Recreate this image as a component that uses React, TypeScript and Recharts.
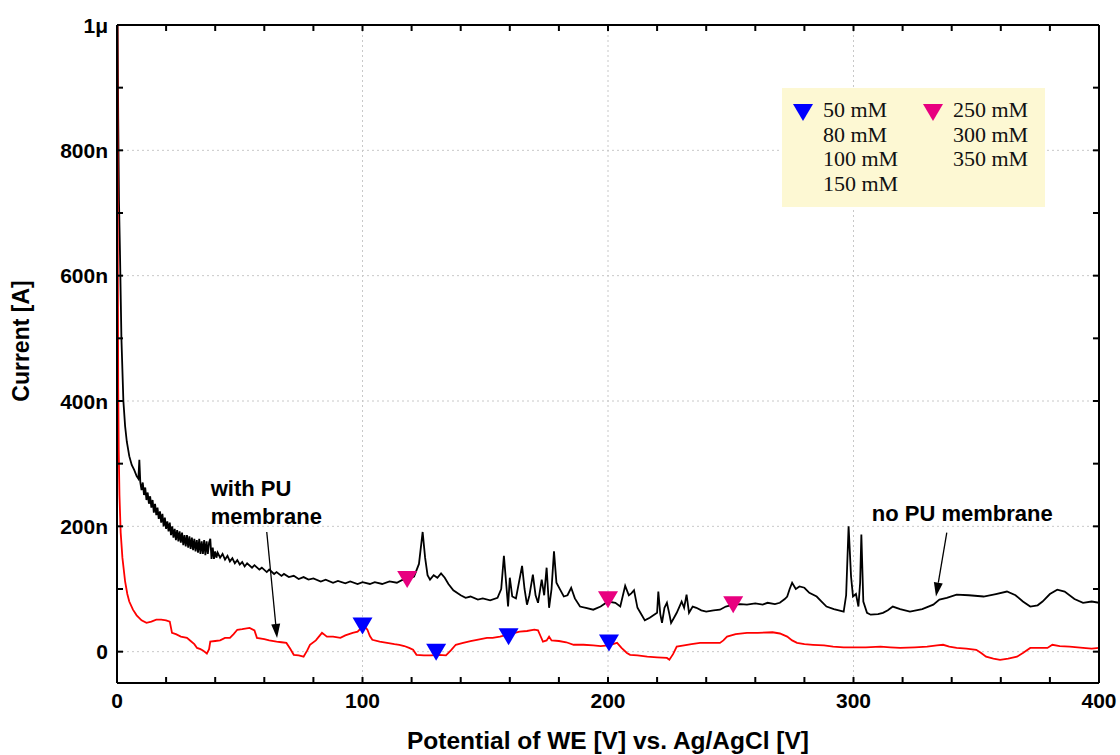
import React from 'react';
import { ComposedChart, Line, Scatter, XAxis, YAxis, CartesianGrid, ReferenceLine, Label } from 'recharts';

// current in nA vs. potential in V
const noMembrane: [number, number][] = [
  [0.25, 1000], [0.5, 850], [0.8, 720], [1.2, 640], [1.8, 500], [2.6, 400], [3.3, 360], [4, 335],
  [5, 312], [6, 298], [7, 290], [8, 280], [8.7, 276], [9.1, 306], [9.5, 270],
  [10, 258], [10.5, 270], [11, 250], [11.5, 262], [12, 242], [12.5, 254], [13, 236], [13.5, 248],
  [14, 230], [14.5, 242], [15, 222], [15.5, 236], [16, 218], [16.5, 230], [17, 212], [17.5, 224],
  [18, 206], [18.5, 220], [19, 200], [19.5, 214], [20, 196], [20.5, 208], [21, 192], [21.5, 206],
  [22, 186], [22.5, 200], [23, 182], [23.5, 196], [24, 178], [24.5, 194], [25, 176], [25.5, 192],
  [26, 174], [26.5, 190], [27, 170], [27.5, 186], [28, 168], [28.5, 186], [29, 166], [29.5, 184],
  [30, 164], [30.5, 182], [31, 162], [31.5, 180], [32, 160], [32.5, 178], [33, 158], [33.5, 180],
  [34, 156], [34.5, 176], [35, 156], [35.5, 178], [36, 154], [36.5, 176], [37, 156], [37.5, 174],
  [38, 180], [38.5, 148], [39, 166], [39.5, 148], [40, 160], [40.5, 150], [41, 158], [42, 150],
  [43, 156], [44, 147], [45, 153], [46, 144], [47, 149], [48, 141], [49, 146], [50, 139], [51, 143],
  [52, 136], [53, 141], [55, 134], [56, 138], [58, 131], [59, 134], [61, 127], [62, 131], [64, 124],
  [65, 127], [67, 121], [68, 124], [70, 119], [72, 121], [74, 116], [76, 119], [78, 115], [80, 117],
  [83, 112], [85, 115], [88, 110], [90, 113], [93, 109], [95, 112], [98, 108], [100, 111], [103, 108],
  [105, 111], [108, 108], [111, 112], [114, 110], [116, 114], [118, 115], [121, 120], [123, 140],
  [124.5, 191], [125.5, 150], [126.5, 122], [127.5, 115], [129, 122], [130.5, 118], [132, 125],
  [133.5, 118], [135, 108], [137, 98], [140, 90], [142, 86], [144, 88], [147, 83], [149, 85], [152, 82],
  [155, 86], [156.5, 100], [157.6, 153], [158.5, 110], [159.3, 72], [160, 118], [161, 88],
  [162.5, 85], [165, 137], [166, 100], [167, 75], [168, 90], [169.4, 123], [170.5, 90], [171.5, 78],
  [173, 115], [174, 90], [175, 134], [176, 70], [177, 100], [178, 160], [179, 110], [180.5, 99],
  [182, 88], [183.5, 90], [185, 102], [186.5, 85], [188.6, 72], [191, 70], [194, 67], [197, 72],
  [200, 80], [203, 78], [205, 72], [207, 105], [208.5, 90], [209.5, 93], [210.6, 98], [212, 70],
  [213.5, 60], [215, 50], [217, 54], [220, 62], [220.5, 96], [221.3, 60], [222, 46], [223, 70],
  [224, 78], [225, 60], [225.7, 46], [227, 55], [228, 62], [230, 80], [231, 70], [232, 91], [233, 62],
  [234.5, 72], [236, 70], [238, 66], [240, 64], [243, 66], [245.6, 67], [248, 72], [251, 75], [254, 76],
  [256.6, 75], [260, 77], [263, 75], [265, 78], [268, 76], [270, 78], [272, 84], [273, 88], [274, 100],
  [275, 110], [276.5, 100], [278, 104], [280, 102], [282, 94], [285, 88], [287, 80], [289, 72],
  [292, 68], [294, 66], [296, 64], [297, 90], [298, 200], [299, 120], [299.8, 88], [301, 92], [302, 72],
  [302.7, 110], [303.2, 187], [304, 80], [305.5, 62], [307, 59], [310, 60], [312, 62], [314, 66],
  [316, 72], [319, 68], [323, 64], [328, 68], [332.5, 75], [335, 83], [338, 86], [342, 91], [347, 90],
  [353, 88], [358, 92], [362.5, 96], [366, 90], [369, 80], [372, 72], [375, 74], [377, 80], [380, 92],
  [383, 99], [386, 96], [390, 84], [393.5, 78], [397, 80], [400, 78],
];

const withMembrane: [number, number][] = [
  [0.15, 1000], [0.25, 800], [0.35, 600], [0.5, 420], [0.7, 322], [1, 250], [1.5, 190], [2.2, 150],
  [3.3, 112], [4.2, 92], [5, 80], [6.5, 67], [8, 58], [10, 50], [12, 46], [14, 48], [16, 51], [18, 51],
  [20, 50], [21.5, 48], [22.4, 30], [24, 28], [26, 24], [28.5, 22], [30, 17], [31.5, 12], [32.6, 6],
  [34, 4], [35, 2], [36.6, -3], [37.5, 4], [38, 16], [40, 17], [42, 18], [44, 22], [46, 22],
  [47.5, 28], [49, 35], [51, 36], [54, 38], [56, 34], [57, 22], [60, 20], [62, 18], [65, 16], [67, 15],
  [69, 14], [70.5, 5], [72, -5], [74, -6], [76, -8], [77.5, 2], [78.6, 11], [81, 18], [83.5, 30],
  [85.5, 24], [88, 24], [91, 22], [93, 26], [96, 30], [98, 32], [99.5, 38], [100.5, 42], [102, 35],
  [103, 25], [104, 19], [107, 16], [110, 14], [113, 12], [115, 11], [117, 9], [119, 6], [120.6, 3],
  [122, -5], [125, -6], [128, -6], [131, -5], [134, -6], [136, 2], [138, 11], [141, 14], [144, 17],
  [146.6, 19], [150.7, 22], [153, 22], [156, 24], [159, 27], [162, 30], [164, 32], [167, 33], [170, 35],
  [171.5, 34], [172.5, 25], [173.5, 16], [175, 18], [176, 24], [177, 18], [180, 17], [183, 15],
  [186, 11], [190, 11], [194, 10], [197, 9], [200, 10], [202, 12], [203.7, 14], [205.5, 6], [207.7, -2],
  [209, -5], [212, -6], [216, -8], [220, -9], [224, -10], [225, -13], [226.5, -4], [228, 8], [231, 10],
  [234, 12], [237.5, 14], [241, 14], [245.6, 14], [247, 18], [248.5, 24], [252, 28], [256.6, 30],
  [261, 30], [267, 31], [270, 29], [273, 24], [275, 18], [277, 14], [280, 12], [283.5, 11], [288, 10],
  [291.7, 8], [296, 7], [300, 7], [305, 7], [311, 8], [315, 7], [319, 6], [325, 7], [330, 8], [334, 10],
  [336.5, 11], [339, 8], [342, 6], [346, 5], [350, 3], [352, -2], [354, -8], [357, -11], [359.7, -13],
  [363, -11], [366.6, -8], [369, -2], [372, 6], [376, 6], [379, 6], [381, 11], [384, 9], [388, 8],
  [393.5, 6], [397, 5], [400, 6],
];

const blueMarks: [number, number][] = [[100, 41], [130, -1], [159.5, 24], [200.4, 14]];
const pinkMarks: [number, number][] = [[118.2, 115], [200, 83], [251, 75]];

const blueLabels = ['50 mM', '80 mM', '100 mM', '150 mM'];
const pinkLabels = ['250 mM', '300 mM', '350 mM'];

const xTicks = [0, 20, 40, 60, 80, 100, 120, 140, 160, 180, 200, 220, 240, 260, 280, 300, 320, 340, 360, 380, 400];
const yTicks = [0, 100, 200, 300, 400, 500, 600, 700, 800, 900, 1000];
const xGrid = [100, 200, 300];
const yGrid = [0, 200, 400, 600, 800];

const toPoints = (arr: [number, number][]) => arr.map(([x, y]) => ({ x, y }));

const BLUE = '#0000ff';
const PINK = '#e8007f';

const sans = '"Liberation Sans", Arial, sans-serif';
const tickFont = { fontFamily: sans, fontWeight: 700, fontSize: 21, fill: '#000' };
const xTitleFont = { fontFamily: sans, fontWeight: 700, fontSize: 24.5, fill: '#000' };
const yTitleFont = { fontFamily: sans, fontWeight: 700, fontSize: 23, fill: '#000' };
const noteFont = { fontFamily: sans, fontWeight: 700, fontSize: 22, fill: '#000' };

const fmtY = (v: number) => (v === 0 ? '0' : v === 1000 ? '1\u03bc' : `${v}n`);

const BottomTick = (props: any) => {
  const { x, y, payload } = props;
  if (payload.value % 100 !== 0) return <g />;
  return (
    <text x={x} y={y} dy="0.72em" textAnchor="middle" style={tickFont}>
      {payload.value}
    </text>
  );
};

const LeftTick = (props: any) => {
  const { x, y, payload } = props;
  if (payload.value % 200 !== 0) return <g />;
  return (
    <text x={x} y={y} dy="0.36em" textAnchor="end" style={tickFont}>
      {fmtY(payload.value)}
    </text>
  );
};

const NoTick = () => <g />;

const Tri = ({ cx, cy, fill }: any) => (
  <polygon points={`${cx - 10},${cy - 8.5} ${cx + 10},${cy - 8.5} ${cx},${cy + 8.5}`} fill={fill} />
);

const arrowWith = (lines: string[], dx: number, dy: number) => (props: any) => {
  const { x1, y1, x2, y2 } = props;
  const ang = Math.atan2(y2 - y1, x2 - x1);
  const len = 14;
  const hw = 4.5;
  const bx = x2 - len * Math.cos(ang);
  const by = y2 - len * Math.sin(ang);
  const px = -Math.sin(ang) * hw;
  const py = Math.cos(ang) * hw;
  return (
    <g>
      <line x1={x1} y1={y1} x2={bx} y2={by} stroke="#000" strokeWidth={1.3} />
      <polygon points={`${x2},${y2} ${bx + px},${by + py} ${bx - px},${by - py}`} fill="#000" />
      {lines.map((t, i) => (
        <text key={t} x={x1 + dx} y={y1 + dy + i * 28} style={noteFont}>
          {t}
        </text>
      ))}
    </g>
  );
};

const axisStroke = { stroke: '#000', strokeWidth: 2 };

export default function App() {
  return (
    <div style={{ position: 'absolute', left: 0, top: 0, width: 1120, height: 755, background: '#fff' }}>
      <ComposedChart width={1120} height={755} margin={{ top: 15, right: 11, left: 17, bottom: 12 }}>
        <CartesianGrid stroke="#c8c8c8" strokeDasharray="2 3" verticalValues={xGrid} horizontalValues={yGrid} />
        <XAxis
          type="number"
          dataKey="x"
          domain={[0, 400]}
          ticks={xTicks}
          interval={0}
          allowDataOverflow
          height={60}
          tickSize={-6}
          tickMargin={16}
          tick={BottomTick}
          axisLine={axisStroke}
          tickLine={axisStroke}
        >
          <Label
            content={(p: any) => {
              const vb = p.viewBox;
              return (
                <text x={vb.x + vb.width / 2} y={749} textAnchor="middle" style={xTitleFont}>
                  Potential of WE [V] vs. Ag/AgCl [V]
                </text>
              );
            }}
          />
        </XAxis>
        <XAxis
          xAxisId="top"
          orientation="top"
          type="number"
          dataKey="x"
          domain={[0, 400]}
          ticks={xTicks}
          interval={0}
          allowDataOverflow
          height={10}
          tickSize={-6}
          tick={NoTick}
          axisLine={axisStroke}
          tickLine={axisStroke}
        />
        <YAxis
          type="number"
          domain={[-50, 1000]}
          ticks={yTicks}
          interval={0}
          allowDataOverflow
          width={100}
          tickSize={-6}
          tickMargin={15}
          tick={LeftTick}
          axisLine={axisStroke}
          tickLine={axisStroke}
        >
          <Label
            content={(p: any) => {
              const vb = p.viewBox;
              const cx = vb.x + 12;
              const cy = vb.y + vb.height / 2 - 13;
              return (
                <text x={cx} y={cy} transform={`rotate(-90 ${cx} ${cy})`} textAnchor="middle" style={yTitleFont}>
                  Current [A]
                </text>
              );
            }}
          />
        </YAxis>
        <YAxis
          yAxisId="right"
          orientation="right"
          type="number"
          domain={[-50, 1000]}
          ticks={yTicks}
          interval={0}
          allowDataOverflow
          width={10}
          tickSize={-6}
          tick={NoTick}
          axisLine={axisStroke}
          tickLine={axisStroke}
        />
        <Line
          data={toPoints(noMembrane)}
          dataKey="y"
          type="linear"
          stroke="#000"
          strokeWidth={1.8}
          dot={false}
          activeDot={false}
          isAnimationActive={false}
        />
        <Line
          data={toPoints(withMembrane)}
          dataKey="y"
          type="linear"
          stroke="#ff0000"
          strokeWidth={1.8}
          dot={false}
          activeDot={false}
          isAnimationActive={false}
        />
        <Scatter data={toPoints(blueMarks)} dataKey="y" fill={BLUE} shape={(p: any) => <Tri {...p} fill={BLUE} />} isAnimationActive={false} />
        <Scatter data={toPoints(pinkMarks)} dataKey="y" fill={PINK} shape={(p: any) => <Tri {...p} fill={PINK} />} isAnimationActive={false} />
        <ReferenceLine
          segment={[{ x: 61, y: 191 }, { x: 65.2, y: 22 }]}
          shape={arrowWith(['with PU', 'membrane'], -56, -36)}
        />
        <ReferenceLine
          segment={[{ x: 338, y: 190 }, { x: 333.6, y: 88 }]}
          shape={arrowWith(['no PU membrane'], -75, -12)}
        />
      </ComposedChart>
      <div
        style={{
          position: 'absolute',
          left: 782,
          top: 88,
          width: 263,
          height: 119,
          background: '#fdf8d3',
          fontFamily: '"Liberation Serif", "Times New Roman", serif',
          fontSize: 22,
          lineHeight: '24.5px',
          color: '#111',
        }}
      >
        {[blueLabels, pinkLabels].map((labels, col) => (
          <div key={col} style={{ position: 'absolute', left: col === 0 ? 41 : 171, top: 10 }}>
            {labels.map((t) => (
              <div key={t} style={{ whiteSpace: 'nowrap' }}>{t}</div>
            ))}
            <svg width={20} height={17} style={{ position: 'absolute', left: -30, top: 6 }}>
              <polygon points="0,0 20,0 10,17" fill={col === 0 ? BLUE : PINK} />
            </svg>
          </div>
        ))}
      </div>
    </div>
  );
}
